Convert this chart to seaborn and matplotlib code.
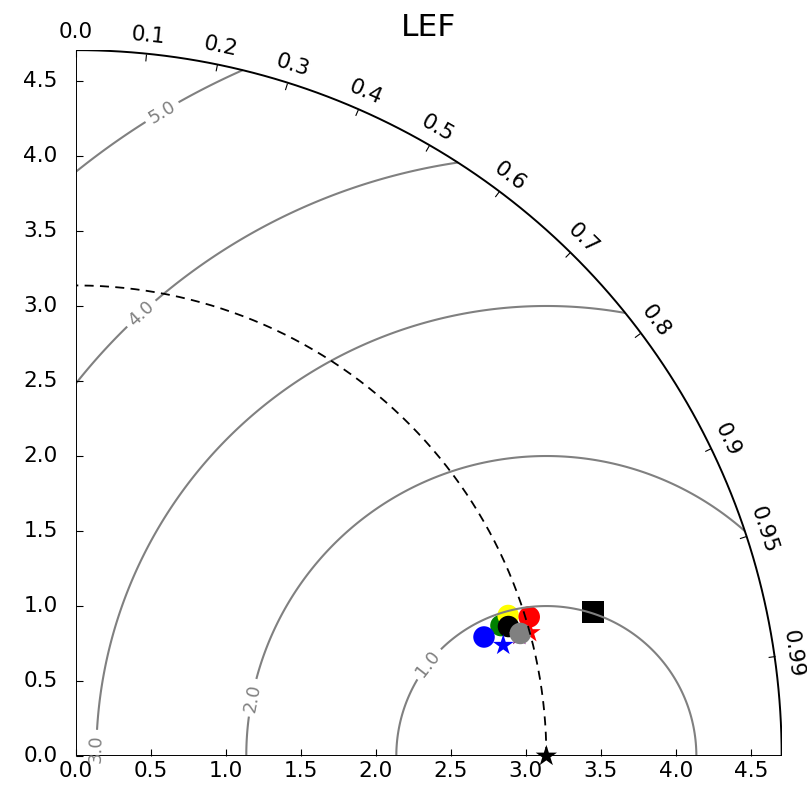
"""
Taylor diagram for LEF: model standard deviation vs correlation with the reference.
"""
import numpy as np
import pandas as pd
import matplotlib
matplotlib.use("Agg")
import matplotlib.pyplot as plt
import seaborn as sns
from matplotlib.projections import PolarAxes
import mpl_toolkits.axisartist.floating_axes as FA
import mpl_toolkits.axisartist.grid_finder as GF

ref_std = 3.137
corr_ticks = [0.0, 0.1, 0.2, 0.3, 0.4, 0.5, 0.6, 0.7, 0.8, 0.9, 0.95, 0.99]
std_ticks = [0.0, 0.5, 1.0, 1.5, 2.0, 2.5, 3.0, 3.5, 4.0, 4.5]
rms_levels = [1.0, 2.0, 3.0, 4.0, 5.0]

# models, in drawing order
point_color = ['green', 'yellow', 'red', 'blue', 'black', 'blue', 'red',
               'purple', 'gray', 'black', 'black']
point_kind = ['circle', 'circle', 'circle', 'circle', 'circle', 'star', 'star',
              'star', 'circle', 'square', 'ref']
point_std = [2.965, 3.031, 3.162, 2.835, 3.011, 2.944, 3.139,
             3.064, 3.074, 3.580, ref_std]
point_corr = [0.956, 0.951, 0.956, 0.960, 0.958, 0.968, 0.965,
              0.965, 0.964, 0.9634, 1.0]

# where the rms contour labels sit, (theta, r)
label_pos = [(1.450, 4.40), (1.427, 2.99), (0.39, 0.125),
             (0.339, 1.198), (0.2764, 2.393)]

fig = plt.figure(figsize=(8.07, 7.89), dpi=100)

tr = PolarAxes.PolarTransform(apply_theta_transforms=False)
smax = 1.5 * ref_std
tlocs = np.arccos(corr_ticks)
helper = FA.GridHelperCurveLinear(
    tr, extremes=(0, np.pi / 2, 0, smax),
    grid_locator1=GF.FixedLocator(tlocs),
    tick_formatter1=GF.DictFormatter(dict(zip(tlocs, map(str, corr_ticks)))),
    grid_locator2=GF.FixedLocator(std_ticks),
    tick_formatter2=GF.DictFormatter({v: f'{v:.1f}' for v in std_ticks}))
ax = FA.FloatingAxes(fig, [0.0938, 0.0402, 0.8748, 0.8978],
                     grid_helper=helper)
fig.add_axes(ax)
# no extra margin round the quarter disc
ax.set_xlim(0, smax)
ax.set_ylim(0, smax)

ax.axis['top'].set_axis_direction('bottom')
ax.axis['top'].toggle(ticklabels=True, label=False)
ax.axis['top'].major_ticklabels.set_axis_direction('top')
ax.axis['left'].set_axis_direction('bottom')
ax.axis['right'].set_axis_direction('top')
ax.axis['right'].toggle(ticklabels=True)
ax.axis['right'].major_ticklabels.set_axis_direction('left')
ax.axis['bottom'].set_visible(False)
for name in ['top', 'left', 'right']:
    ax.axis[name].major_ticklabels.set_fontsize(15.6)
    ax.axis[name].major_ticks.set_ticksize(5)
    ax.axis[name].line.set_linewidth(1.4)
ax.axis['top'].major_ticklabels.set_pad(9)
ax.axis['right'].major_ticklabels.set_pad(13)
ax.grid(False)
ax.set_title('LEF', fontsize=22.5, pad=10.5)

aux = ax.get_aux_axes(tr)

theta_grid, r_grid = np.meshgrid(np.linspace(0, np.pi / 2, 300),
                                 np.linspace(0, smax, 300))
rms = np.sqrt(ref_std**2 + r_grid**2 - 2 * ref_std * r_grid * np.cos(theta_grid))
cs = aux.contour(theta_grid, r_grid, rms, levels=rms_levels, colors='gray',
                 linewidths=1.5)
labels = aux.clabel(cs, inline=True, fontsize=13, fmt='%.1f', manual=label_pos)
for txt in labels:
    txt.set_clip_on(False)

t = np.linspace(0, np.pi / 2, 200)
aux.plot(t, np.full_like(t, ref_std), color='k', ls='--', lw=1.3,
         dashes=(5, 3.5))

df = pd.DataFrame({'theta': np.arccos(point_corr), 'std': point_std,
                   'color': point_color, 'kind': point_kind})
sns.scatterplot(data=df, x='theta', y='std', hue='color',
                palette={c: c for c in point_color},
                style='kind',
                markers={'circle': 'o', 'star': '*', 'square': 's', 'ref': '*'},
                size='kind',
                sizes={'circle': 240, 'star': 250, 'square': 240, 'ref': 260},
                linewidth=0, legend=False, ax=aux)
aux.collections[-1].set_clip_on(False)

fig.savefig('out.png', dpi=100)
